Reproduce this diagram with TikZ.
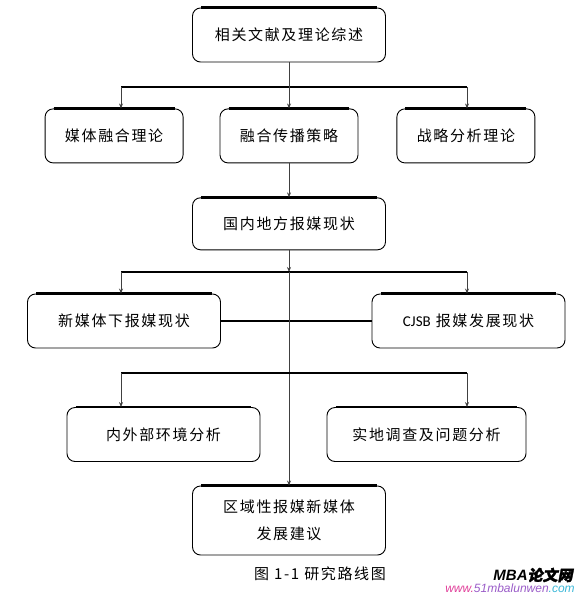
\documentclass[tikz,border=0pt]{standalone}
\usepackage{fontspec}
\usepackage{xcolor}
\setmainfont{Carlito}
\newfontfamily\cjk[LetterSpace=11]{Noto Sans CJK SC}
\newfontfamily\cjkb[FakeSlant=0.2, FakeBold=2]{Noto Sans CJK SC}
\newfontfamily\latin{Carlito}
\newfontfamily\arial{Liberation Sans}
\definecolor{urlpink}{HTML}{E0409A}
\definecolor{urlpurple}{HTML}{9A5CC8}
\definecolor{urlcyan}{HTML}{3CB8D8}
\usetikzlibrary{arrows.meta, positioning}

\begin{document}
\begin{tikzpicture}[
    x=1pt, y=1pt,
    node distance=46pt,
    box/.style={draw, line width=0.9pt, rounded corners=8pt, align=center, minimum width=193pt, minimum height=54pt, font=\cjk\fontsize{15}{27}\selectfont},
    small/.style={box, minimum width=138pt},
    topedge/.style={line width=2.6pt},
    branch/.style={line width=2pt},
    arrow/.style={-{Stealth[length=5pt, width=4pt]}, line width=0.8pt, black!75}
]
\useasboundingbox (0,0) rectangle (577,-594);

\node[box] (lit) at (289,-35) {相关文献及理论综述};
\node[small, below=46pt of lit] (spread) {融合传播策略};
\node[small, left=36pt of spread] (media) {媒体融合理论};
\node[small, right=38pt of spread] (strat) {战略分析理论};
\node[box, minimum height=52pt, below=34pt of spread] (local) {国内地方报媒现状};
\node[box] (newm) at (124,-321) {新媒体下报媒现状};
\node[box] (cjsb) at (468.5,-321) {{\latin CJSB} 报媒发展现状};
\node[box] (env) at (163.5,-434.5) {内外部环境分析};
\node[box, minimum width=199pt] (survey) at (426.5,-434.5) {实地调查及问题分析};
\node[box, minimum height=69pt] (advice) at (289,-520.5) {区域性报媒新媒体\\发展建议};

% branch points
\coordinate (b1) at (289,-87);
\coordinate (b1l) at (121,-87);
\coordinate (b1r) at (467,-87);
\coordinate (b2) at (289,-272);
\coordinate (b2l) at (121,-272);
\coordinate (b2r) at (467,-272);
\coordinate (b3l) at (121,-373);
\coordinate (b3r) at (467,-373);

\foreach \n in {lit, media, spread, strat, local, newm, cjsb, env, survey, advice}
    \draw[topedge] ([xshift=9pt]\n.north west) -- ([xshift=-9pt]\n.north east);

\draw[branch] (b1l) -- (b1r);
\draw[arrow] (lit) -- (spread);
\draw[arrow] (b1l) -- (b1l |- media.north);
\draw[arrow] (b1r) -- (b1r |- strat.north);
\draw[arrow] (spread) -- (local);
\draw[arrow] (local) -- (b2);
\draw[branch] (b2l) -- (b2r);
\draw[arrow] (b2l) -- (b2l |- newm.north);
\draw[arrow] (b2r) -- (b2r |- cjsb.north);
\draw[line width=1.2pt] (newm) -- (cjsb);
\draw[arrow] (b2) -- (advice);
\draw[line width=1.5pt] (b3l) -- (b3r);
\draw[arrow] (b3l) -- (b3l |- env.north);
\draw[arrow] (b3r) -- (b3r |- survey.north);

\node[font=\cjk\fontsize{15}{16}\selectfont] (cap) at (320,-574) {图 1-1 研究路线图};
\node[font=\arial\bfseries\itshape\fontsize{15}{16}\selectfont, inner sep=0pt] (mark) at (533,-575) {MBA{\cjkb 论文网}};
\node[font=\arial\itshape\fontsize{12}{13}\selectfont, inner sep=0pt] (url) at (510,-588) {\textcolor{urlpink}{www.}\textcolor{urlpurple}{51mbalunwen}\textcolor{urlcyan}{.com}};
\end{tikzpicture}
\end{document}
